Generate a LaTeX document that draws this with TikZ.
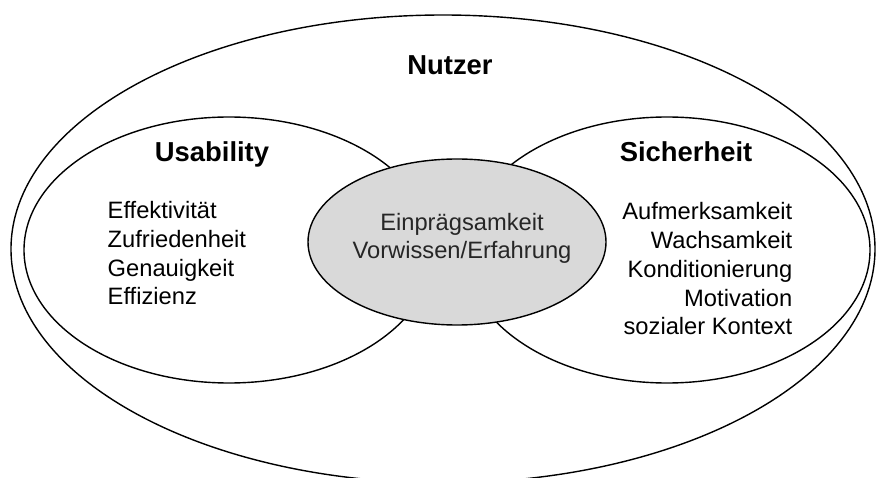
\documentclass[tikz,border=0pt]{standalone}
\usepackage{fontspec}
\setmainfont{Liberation Sans}
\usepackage{tikz}
\usetikzlibrary{shapes}
\definecolor{kernfill}{rgb}{0.85,0.85,0.85}
\tikzset{
  headline/.style={font=\fontsize{27.5}{30}\selectfont\bfseries,inner sep=0pt},
  itemlist/.style={font=\fontsize{23.8}{28.9}\selectfont,inner sep=0pt},
}
\begin{document}
\begin{tikzpicture}[x=1bp,y=-1bp,line join=bevel]
  \pgfsetlinewidth{1.4bp}
  \useasboundingbox (0,0) rectangle (877,478);
%%
  % Ellipse: Nutzer
  \draw (443,249) ellipse [x radius=432, y radius=234];
  \node[headline,anchor=base] (nutzer) at (450,75) {Nutzer};
  % Ellipse: Usability
  \draw[fill=white] (229,250) ellipse [x radius=205, y radius=133];
  \node[headline,anchor=base] (usability) at (212,162) {Usability};
  \node[itemlist,anchor=base west,align=left] (usabilityItems) at (107,305)
    {Effektivität\\Zufriedenheit\\Genauigkeit\\Effizienz};
  % Ellipse: Sicherheit
  \draw[fill=white] (667,250) ellipse [x radius=203, y radius=133];
  \node[headline,anchor=base] (sicherheit) at (686,162) {Sicherheit};
  \node[itemlist,anchor=base east,align=right] (sicherheitItems) at (793,335)
    {Aufmerksamkeit\\Wachsamkeit\\Konditionierung\\Motivation\\sozialer Kontext};
  % Ellipse: Schnittmenge
  \draw[fill=kernfill] (457,242) ellipse [x radius=149, y radius=83];
  \node[itemlist,anchor=base,align=center,text=black!85] (kern) at (462,259)
    {Einprägsamkeit\\Vorwissen/Erfahrung};
%
\end{tikzpicture}
\end{document}
